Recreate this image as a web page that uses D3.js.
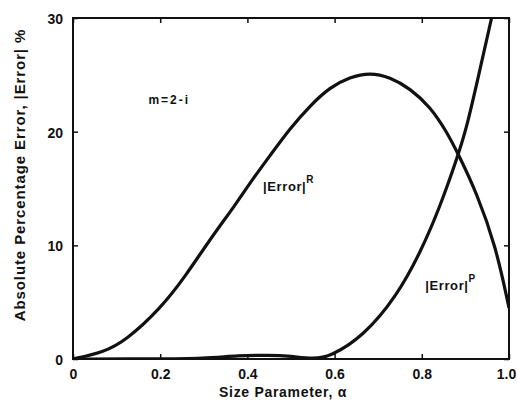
<!DOCTYPE html>
<html>
<head>
<meta charset="utf-8">
<script src="https://cdn.jsdelivr.net/npm/d3@7"></script>
<style>
  body { margin: 0; background: #fff; }
  text { font-family: "Liberation Sans", Arial, sans-serif; font-weight: bold; fill: #111; }
</style>
</head>
<body>
<div id="chart"></div>
<script>
// error curves
var alphaR = [0, 0.07, 0.12, 0.2, 0.26, 0.31, 0.375, 0.406, 0.452, 0.498, 0.544, 0.589, 0.635, 0.681, 0.727, 0.773, 0.819, 0.857, 0.884, 0.926, 0.97, 1.0];
var errR   = [0, 0.6, 1.6, 4.4, 7.4, 10.3, 13.7, 15.5, 17.9, 20.3, 22.3, 23.9, 24.8, 25.2, 24.8, 23.8, 22.2, 20.0, 18.0, 14.6, 9.9, 4.5];
var alphaP = [0, 0.2, 0.3, 0.38, 0.45, 0.5, 0.55, 0.59, 0.666, 0.742, 0.796, 0.842, 0.884, 0.903, 0.926, 0.96];
var errP   = [0, 0, 0.05, 0.3, 0.35, 0.25, 0.0, 0.2, 2.0, 5.5, 9.3, 13.4, 18.0, 20.4, 24.2, 30];
var xTicks = [0, 0.2, 0.4, 0.6, 0.8, 1.0];
var xTickLabels = ["0", "0.2", "0.4", "0.6", "0.8", "1.0"];
var yTicks = [0, 10, 20, 30];

var margin = {top: 18, right: 8, bottom: 43, left: 73},
    width = 517 - margin.left - margin.right,
    height = 402 - margin.top - margin.bottom;

var svg = d3.select("#chart").append("svg")
    .attr("width", 517)
    .attr("height", 402);

var g = svg.append("g")
    .attr("transform", "translate(" + margin.left + "," + margin.top + ")");

var x = d3.scaleLinear().domain([0, 1]).range([0, width]),
    y = d3.scaleLinear().domain([0, 30]).range([height, 0]);

g.append("clipPath").attr("id", "clip")
  .append("rect").attr("width", width).attr("height", height);

// axes: ticks pointing inward on all four sides
var axB = g.append("g")
    .attr("transform", "translate(0," + height + ")")
    .call(d3.axisBottom(x).tickValues(xTicks).tickSize(-5).tickPadding(10)
        .tickFormat(function(d, i) { return xTickLabels[i]; }));
var axL = g.append("g")
    .call(d3.axisLeft(y).tickValues(yTicks).tickSize(-5).tickPadding(10));
var axT = g.append("g")
    .call(d3.axisTop(x).tickValues(xTicks).tickSize(-5).tickFormat(""));
var axR = g.append("g")
    .attr("transform", "translate(" + width + ",0)")
    .call(d3.axisRight(y).tickValues(yTicks).tickSize(-5).tickFormat(""));

[axB, axL, axT, axR].forEach(function(a) {
  a.select(".domain").remove();
  a.selectAll(".tick line").attr("stroke", "#111").attr("stroke-width", 1.5);
  a.selectAll("text").attr("font-size", 14).attr("fill", "#111")
    .attr("font-family", "Liberation Sans, Arial, sans-serif").attr("font-weight", "bold");
});
axB.selectAll(".tick text").filter(function(d) { return d === 1; }).attr("dx", -3);
axL.selectAll(".tick text").attr("dy", "0.4em");

g.append("rect")
    .attr("width", width).attr("height", height)
    .attr("fill", "none").attr("stroke", "#111").attr("stroke-width", 2);

var line = d3.line()
    .curve(d3.curveBasis)
    .x(function(d) { return x(d[0]); })
    .y(function(d) { return y(d[1]); });

var plot = g.append("g").attr("clip-path", "url(#clip)");
plot.append("path")
    .datum(d3.zip(alphaR, errR))
    .attr("fill", "none").attr("stroke", "#111").attr("stroke-width", 3.2)
    .attr("d", line);
plot.append("path")
    .datum(d3.zip(alphaP, errP))
    .attr("fill", "none").attr("stroke", "#111").attr("stroke-width", 3.2)
    .attr("d", line);

// labels
g.append("text").attr("x", x(0.173)).attr("y", y(22.4))
    .attr("font-size", 12).attr("letter-spacing", 2).text("m=2-i");

var lr = g.append("text").attr("x", x(0.436)).attr("y", y(14.8))
    .attr("font-size", 13).attr("letter-spacing", 0.6);
lr.append("tspan").text("|Error|");
lr.append("tspan").attr("dy", -8).attr("font-size", 10).text("R");

var lp = g.append("text").attr("x", x(0.808)).attr("y", y(6.1))
    .attr("font-size", 13).attr("letter-spacing", 0.6);
lp.append("tspan").text("|Error|");
lp.append("tspan").attr("dy", -8).attr("font-size", 10).text("P");

svg.append("text")
    .attr("x", 283).attr("y", 397)
    .attr("text-anchor", "middle").attr("font-size", 14).attr("letter-spacing", 0.7)
    .text("Size Parameter, α");

svg.append("text")
    .attr("transform", "translate(25,175) rotate(-90)")
    .attr("text-anchor", "middle").attr("font-size", 15).attr("letter-spacing", 0.9)
    .text("Absolute Percentage Error, |Error| %");
</script>
</body>
</html>
